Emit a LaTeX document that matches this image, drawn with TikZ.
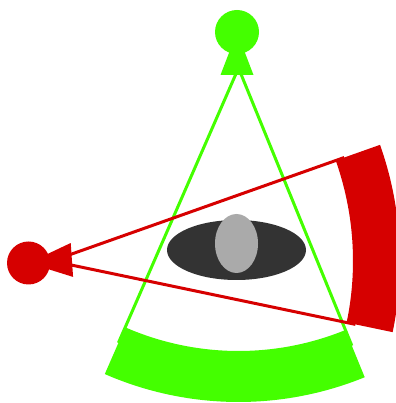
\documentclass[tikz,border=0pt]{standalone}
\usetikzlibrary{calc}
\definecolor{gr}{RGB}{68,255,0}
\definecolor{rd}{RGB}{214,0,0}
\definecolor{dk}{RGB}{51,51,51}
\definecolor{lt}{RGB}{170,170,170}
\tikzset{
  glin/.style={draw=gr, line width=3pt},
  rlin/.style={draw=rd, line width=3pt},
}
\begin{document}
\begin{tikzpicture}[x=1pt,y=1pt]
\useasboundingbox (0,0) rectangle (395,403);
% green frustum
\coordinate (GA) at (238.5,335);
\coordinate (GC) at (237,371);
\draw[glin] (GA) -- ($(GA)+(246.4:300)$);
\draw[glin] (GA) -- ($(GA)+(292.2:300)$);
\fill[gr] ($(GA)+(246.4:283)$) arc[start angle=246.4, end angle=292.2, radius=283]
  -- ($(GA)+(292.2:334)$) arc[start angle=292.2, end angle=246.4, radius=334] -- cycle;
\fill[gr] (GC) circle[radius=22];
\fill[gr] (GC) -- ($(GC)+(-16.5,-43)$) -- ($(GC)+(16.5,-43)$) -- cycle;
% red frustum
\coordinate (RA) at (52,142);
\coordinate (RC) at (28.5,140);
\draw[rlin] (RA) -- ($(RA)+(19.5:310)$);
\draw[rlin] (RA) -- ($(RA)+(-11.8:310)$);
\fill[rd] ($(RA)+(-11.8:301)$) arc[start angle=-11.8, end angle=19.5, radius=301]
  -- ($(RA)+(19.5:348)$) arc[start angle=19.5, end angle=-11.8, radius=348] -- cycle;
\fill[rd] (RC) circle[radius=21.5];
\fill[rd] (RC) -- ($(RC)+(4:43.5)+(94:17)$) -- ($(RC)+(4:43.5)+(-86:17)$) -- cycle;
% object
\fill[dk] (236.5,153) ellipse[x radius=69.5, y radius=30];
\fill[lt] (236.5,159.5) ellipse[x radius=21.5, y radius=29.5];
\end{tikzpicture}
\end{document}
